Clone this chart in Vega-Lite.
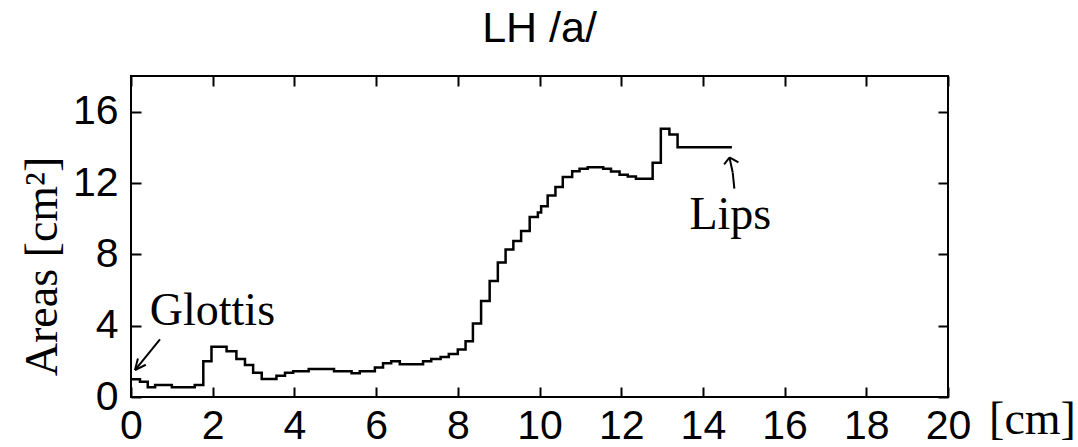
{
  "$schema": "https://vega.github.io/schema/vega-lite/v6.json",
  "autosize": "none",
  "width": 817,
  "height": 321,
  "padding": {"left": 131, "top": 76, "right": 130, "bottom": 50},
  "background": "white",
  "title": {"text": "LH /a/", "font": "Liberation Sans", "fontSize": 43, "fontWeight": "normal", "color": "black", "anchor": "middle", "frame": "group", "offset": 24},
  "config": {
    "view": {"stroke": "black", "strokeWidth": 2},
    "axis": {"domain": false, "grid": false, "ticks": true, "tickColor": "black", "tickWidth": 2, "tickSize": -10, "labelFont": "Liberation Sans", "labelFontSize": 41, "labelColor": "black", "labelPadding": 23, "titleFont": "Liberation Serif", "titleFontSize": 46, "titleFontWeight": "normal", "titleColor": "black"}
  },
  "datasets": {
    "area": [
      {"x": 0.00, "a": 0.99}, {"x": 0.22, "a": 0.86}, {"x": 0.41, "a": 0.54}, {"x": 0.59, "a": 0.67},
      {"x": 1.00, "a": 0.54}, {"x": 1.56, "a": 0.67}, {"x": 1.77, "a": 2.01}, {"x": 1.97, "a": 2.82},
      {"x": 2.34, "a": 2.57}, {"x": 2.58, "a": 2.13}, {"x": 2.79, "a": 1.79}, {"x": 2.99, "a": 1.36},
      {"x": 3.20, "a": 1.01}, {"x": 3.56, "a": 1.19}, {"x": 3.77, "a": 1.36}, {"x": 3.97, "a": 1.45},
      {"x": 4.35, "a": 1.57}, {"x": 4.97, "a": 1.44}, {"x": 5.40, "a": 1.33}, {"x": 5.60, "a": 1.44},
      {"x": 5.97, "a": 1.66}, {"x": 6.17, "a": 1.89}, {"x": 6.37, "a": 2.01}, {"x": 6.58, "a": 1.83},
      {"x": 7.15, "a": 2.01}, {"x": 7.35, "a": 2.13}, {"x": 7.58, "a": 2.24}, {"x": 7.78, "a": 2.41},
      {"x": 8.00, "a": 2.67}, {"x": 8.19, "a": 3.13}, {"x": 8.37, "a": 4.12}, {"x": 8.57, "a": 5.39},
      {"x": 8.78, "a": 6.51}, {"x": 8.98, "a": 7.54}, {"x": 9.17, "a": 8.27}, {"x": 9.36, "a": 8.75},
      {"x": 9.55, "a": 9.31}, {"x": 9.76, "a": 10.10}, {"x": 9.96, "a": 10.35}, {"x": 10.04, "a": 10.70},
      {"x": 10.20, "a": 11.30}, {"x": 10.39, "a": 11.77}, {"x": 10.57, "a": 12.33}, {"x": 10.80, "a": 12.66},
      {"x": 10.98, "a": 12.80}, {"x": 11.18, "a": 12.89}, {"x": 11.56, "a": 12.80}, {"x": 11.75, "a": 12.65},
      {"x": 11.96, "a": 12.46}, {"x": 12.16, "a": 12.37}, {"x": 12.36, "a": 12.24}, {"x": 12.77, "a": 13.13},
      {"x": 12.97, "a": 15.04}, {"x": 13.18, "a": 14.72}, {"x": 13.38, "a": 14.01}, {"x": 14.71, "a": 14.01}
    ],
    "arrows": [
      {"x": 0.709, "y": 3.229, "x2": 0.098, "y2": 1.511},
      {"x": 0.098, "y": 1.511, "x2": 0.362, "y2": 1.808},
      {"x": 0.098, "y": 1.511, "x2": 0.169, "y2": 2.160},
      {"x": 14.77, "y": 11.68, "x2": 14.73, "y2": 12.59},
      {"x": 14.73, "y": 12.59, "x2": 14.65, "y2": 13.43},
      {"x": 14.65, "y": 13.43, "x2": 14.52, "y2": 13.04},
      {"x": 14.65, "y": 13.43, "x2": 14.87, "y2": 13.15}
    ],
    "labels": [
      {"label": "Glottis", "x": 0.46, "y": 4.03},
      {"label": "Lips", "x": 13.67, "y": 9.40}
    ]
  },
  "layer": [
    {
      "data": {"name": "area"},
      "mark": {"type": "line", "interpolate": "step-after", "color": "black", "strokeWidth": 2.5},
      "encoding": {
        "x": {"field": "x", "type": "quantitative", "scale": {"domain": [0, 20], "nice": false, "zero": false},
          "axis": {"orient": "bottom", "values": [0, 2, 4, 6, 8, 10, 12, 14, 16, 18, 20], "labelPadding": 19, "title": "[cm]", "titleX": 901, "titleY": 36, "titleAlign": "center", "titleBaseline": "alphabetic", "titleAngle": 0, "labelFlush": false, "labelOverlap": false}},
        "y": {"field": "a", "type": "quantitative", "scale": {"domain": [0, 18], "nice": false},
          "axis": {"orient": "left", "values": [0, 4, 8, 12, 16], "title": "Areas [cm²]", "titleX": -75, "titleY": 190, "titleAlign": "center", "titleBaseline": "alphabetic", "titleAngle": -90, "labelFlush": false, "labelOverlap": false}}
      }
    },
    {
      "data": {"name": "arrows"},
      "mark": {"type": "rule", "color": "black", "strokeWidth": 2},
      "encoding": {
        "x": {"field": "x", "type": "quantitative", "scale": {"domain": [0, 20], "nice": false, "zero": false},
          "axis": {"orient": "top", "values": [0, 2, 4, 6, 8, 10, 12, 14, 16, 18, 20], "labels": false, "title": null}},
        "y": {"field": "y", "type": "quantitative", "scale": {"domain": [0, 18], "nice": false},
          "axis": {"orient": "right", "values": [0, 4, 8, 12, 16], "labels": false, "title": null}},
        "x2": {"field": "x2"},
        "y2": {"field": "y2"}
      }
    },
    {
      "data": {"name": "labels"},
      "mark": {"type": "text", "font": "Liberation Serif", "fontSize": 46, "align": "left", "baseline": "alphabetic", "color": "black"},
      "encoding": {
        "x": {"field": "x", "type": "quantitative", "axis": null},
        "y": {"field": "y", "type": "quantitative", "axis": null},
        "text": {"field": "label"}
      }
    }
  ],
  "resolve": {"axis": {"x": "independent", "y": "independent"}}
}
